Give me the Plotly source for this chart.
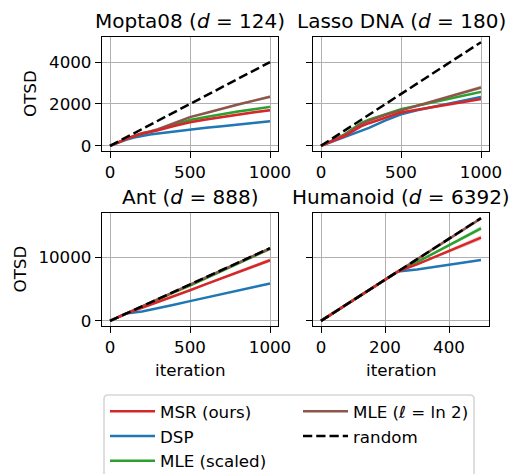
import plotly.graph_objects as go

# ---------------- data ----------------
MOPTA_X = [0, 50, 100, 150, 200, 250, 300, 400, 500, 600, 700, 800, 900, 1000]
MOPTA_RANDOM = [0, 200, 400, 600, 800, 1000, 1200, 1600, 2000, 2400, 2800, 3200, 3600, 4000]
MOPTA_MSR = [0, 170, 320, 460, 580, 660, 740, 950, 1130, 1260, 1380, 1490, 1600, 1700]
MOPTA_DSP = [0, 150, 290, 400, 480, 540, 590, 690, 780, 860, 940, 1020, 1100, 1170]
MOPTA_MLE_SCALED = [0, 170, 320, 460, 590, 670, 760, 1000, 1230, 1380, 1520, 1640, 1750, 1860]
MOPTA_MLE_LN2 = [0, 175, 330, 470, 600, 690, 790, 1080, 1370, 1570, 1780, 1970, 2160, 2340]
MOPTA_MSR_ERR = [0, 10, 15, 20, 25, 30, 30, 35, 40, 45, 50, 55, 60, 60]
MOPTA_DSP_ERR = [0, 8, 10, 12, 15, 18, 20, 22, 25, 28, 30, 32, 34, 35]
MOPTA_MLE_SCALED_ERR = [0, 10, 15, 20, 25, 30, 30, 35, 40, 45, 50, 55, 60, 60]
MOPTA_MLE_LN2_ERR = [0, 10, 15, 20, 25, 30, 35, 40, 45, 50, 55, 60, 65, 70]

LASSO_X = [0, 50, 100, 150, 200, 250, 300, 400, 500, 600, 700, 800, 900, 1000]
LASSO_RANDOM = [0, 248, 495, 743, 990, 1238, 1485, 1980, 2475, 2970, 3465, 3960, 4455, 4950]
LASSO_MSR = [0, 150, 300, 480, 700, 928, 1080, 1340, 1587, 1718, 1848, 1979, 2110, 2240]
LASSO_DSP = [0, 140, 288, 420, 560, 700, 860, 1200, 1500, 1698, 1858, 2018, 2178, 2337]
LASSO_MLE_SCALED = [0, 170, 340, 560, 820, 1087, 1250, 1500, 1745, 1911, 2077, 2244, 2410, 2577]
LASSO_MLE_LN2 = [0, 165, 330, 530, 780, 1024, 1200, 1470, 1695, 1914, 2130, 2350, 2570, 2788]
LASSO_MSR_ERR = [0, 10, 15, 20, 25, 30, 35, 40, 45, 50, 55, 60, 65, 70]
LASSO_DSP_ERR = [0, 10, 12, 15, 18, 20, 25, 30, 35, 40, 45, 50, 55, 60]
LASSO_MLE_SCALED_ERR = [0, 10, 15, 20, 25, 30, 35, 40, 45, 50, 55, 60, 65, 70]
LASSO_MLE_LN2_ERR = [0, 10, 15, 20, 25, 30, 35, 45, 55, 60, 65, 75, 85, 90]

ANT_X = [0, 100, 200, 300, 400, 500, 600, 700, 800, 900, 1000]
ANT_RANDOM = [0, 1140, 2280, 3420, 4560, 5700, 6840, 7980, 9120, 10260, 11400]
ANT_MSR = [0, 1140, 2050, 2940, 3870, 4800, 5750, 6700, 7600, 8550, 9500]
ANT_DSP = [0, 1150, 1480, 1970, 2520, 3090, 3650, 4200, 4750, 5300, 5870]
ANT_MLE_SCALED = [0, 1140, 2270, 3380, 4460, 5530, 6660, 7800, 8960, 10120, 11300]
ANT_MLE_LN2 = [0, 1140, 2270, 3400, 4530, 5660, 6790, 7920, 9060, 10200, 11350]
ANT_MSR_ERR = [0, 20, 60, 90, 120, 150, 180, 210, 240, 270, 300]
ANT_DSP_ERR = [0, 20, 30, 40, 50, 60, 70, 80, 90, 100, 110]
ANT_MLE_SCALED_ERR = [0, 20, 40, 60, 80, 100, 120, 140, 160, 180, 200]
ANT_MLE_LN2_ERR = [0, 20, 40, 60, 80, 100, 120, 140, 160, 180, 200]

HUM_X = [0, 50, 100, 150, 200, 240, 300, 350, 400, 450, 500]
HUM_RANDOM = [0, 1610, 3220, 4830, 6440, 7730, 9660, 11270, 12880, 14490, 16100]
HUM_MSR = [0, 1610, 3220, 4830, 6440, 7730, 8850, 9900, 10950, 11990, 13030]
HUM_DSP = [0, 1610, 3220, 4830, 6440, 7730, 8060, 8420, 8780, 9150, 9530]
HUM_MLE_SCALED = [0, 1610, 3220, 4830, 6440, 7730, 9200, 10500, 11800, 13150, 14500]
HUM_MLE_LN2 = [0, 1610, 3220, 4830, 6440, 7730, 9620, 11230, 12840, 14450, 16060]
HUM_MSR_ERR = [0, 20, 30, 40, 50, 60, 130, 200, 270, 340, 400]
HUM_DSP_ERR = [0, 20, 30, 40, 50, 60, 70, 80, 90, 100, 110]
HUM_MLE_SCALED_ERR = [0, 20, 30, 40, 50, 60, 110, 170, 230, 290, 350]
HUM_MLE_LN2_ERR = [0, 20, 30, 40, 50, 60, 80, 100, 120, 140, 160]

PANEL_TITLES = ["Mopta08 (<i>d</i> = 124)", "Lasso DNA (<i>d</i> = 180)",
                "Ant (<i>d</i> = 888)", "Humanoid (<i>d</i> = 6392)"]
SERIES_NAMES = ["MSR (ours)", "DSP", "MLE (scaled)", "MLE (ℓ = ln 2)", "random"]
X_TICKS_LONG = [0, 500, 1000]
X_TICKS_HUM = [0, 200, 400]
Y_TICKS_TOP = [0, 2000, 4000]
Y_TICKS_BOTTOM = [0, 10000]

# ---------------- styling ----------------
W, H = 511, 474
FONT = "DejaVu Sans"
TICK_FS = 16.7
TITLE_FS = 20
COLORS = {"MSR (ours)": "#d62728", "DSP": "#1f77b4", "MLE (scaled)": "#2ca02c",
          "MLE (ℓ = ln 2)": "#8c564b", "random": "black"}
FILLS = {"MSR (ours)": "rgba(214,39,40,0.25)", "DSP": "rgba(31,119,180,0.25)",
         "MLE (scaled)": "rgba(44,160,44,0.25)", "MLE (ℓ = ln 2)": "rgba(140,86,75,0.25)"}
LW = 2.5


def px_x(p):
    return p / W


def px_y(p):
    return 1 - p / H


panels = [
    dict(x=MOPTA_X, rnd=MOPTA_RANDOM,
         s={"MSR (ours)": (MOPTA_MSR, MOPTA_MSR_ERR), "DSP": (MOPTA_DSP, MOPTA_DSP_ERR),
            "MLE (scaled)": (MOPTA_MLE_SCALED, MOPTA_MLE_SCALED_ERR),
            "MLE (ℓ = ln 2)": (MOPTA_MLE_LN2, MOPTA_MLE_LN2_ERR)}),
    dict(x=LASSO_X, rnd=LASSO_RANDOM,
         s={"MSR (ours)": (LASSO_MSR, LASSO_MSR_ERR), "DSP": (LASSO_DSP, LASSO_DSP_ERR),
            "MLE (scaled)": (LASSO_MLE_SCALED, LASSO_MLE_SCALED_ERR),
            "MLE (ℓ = ln 2)": (LASSO_MLE_LN2, LASSO_MLE_LN2_ERR)}),
    dict(x=ANT_X, rnd=ANT_RANDOM,
         s={"MSR (ours)": (ANT_MSR, ANT_MSR_ERR), "DSP": (ANT_DSP, ANT_DSP_ERR),
            "MLE (scaled)": (ANT_MLE_SCALED, ANT_MLE_SCALED_ERR),
            "MLE (ℓ = ln 2)": (ANT_MLE_LN2, ANT_MLE_LN2_ERR)}),
    dict(x=HUM_X, rnd=HUM_RANDOM,
         s={"MSR (ours)": (HUM_MSR, HUM_MSR_ERR), "DSP": (HUM_DSP, HUM_DSP_ERR),
            "MLE (scaled)": (HUM_MLE_SCALED, HUM_MLE_SCALED_ERR),
            "MLE (ℓ = ln 2)": (HUM_MLE_LN2, HUM_MLE_LN2_ERR)}),
]

fig = go.Figure()
draw_order = ["DSP", "MLE (scaled)", "MLE (ℓ = ln 2)", "MSR (ours)"]
legend_of = {"MSR (ours)": ("legend", 1), "DSP": ("legend", 2), "MLE (scaled)": ("legend", 3),
             "MLE (ℓ = ln 2)": ("legend2", 1), "random": ("legend2", 2)}

for i, p in enumerate(panels):
    xa = "x" if i == 0 else f"x{i+1}"
    ya = "y" if i == 0 else f"y{i+1}"
    # bands
    for name in draw_order:
        vals, err = p["s"][name]
        up = [v + e for v, e in zip(vals, err)]
        lo = [v - e for v, e in zip(vals, err)]
        fig.add_trace(go.Scatter(x=p["x"], y=up, mode="lines", line=dict(width=0),
                                 xaxis=xa, yaxis=ya, showlegend=False, hoverinfo="skip"))
        fig.add_trace(go.Scatter(x=p["x"], y=lo, mode="lines", line=dict(width=0),
                                 fill="tonexty", fillcolor=FILLS[name],
                                 xaxis=xa, yaxis=ya, showlegend=False, hoverinfo="skip"))
    for name in draw_order:
        vals, _ = p["s"][name]
        lg, rank = legend_of[name]
        fig.add_trace(go.Scatter(x=p["x"], y=vals, mode="lines", name=name,
                                 line=dict(color=COLORS[name], width=LW),
                                 xaxis=xa, yaxis=ya, showlegend=(i == 0),
                                 legend=lg, legendrank=rank))
    lg, rank = legend_of["random"]
    fig.add_trace(go.Scatter(x=p["x"], y=p["rnd"], mode="lines", name="random",
                             line=dict(color="black", width=LW, dash="9.25px,4px"),
                             xaxis=xa, yaxis=ya, showlegend=(i == 0),
                             legend=lg, legendrank=rank))

# axes geometry (pixels)
XCOL = [(102, 278), (313, 489)]
YROW = [(37, 151), (213, 326)]

axis_common = dict(showline=True, mirror=True, linecolor="black", linewidth=1.33,
                   ticks="outside", ticklen=6, tickwidth=1.33, tickcolor="black",
                   showgrid=True, gridcolor="#b0b0b0", gridwidth=1.33, zeroline=False,
                   tickformat="d", automargin=False,
                   tickfont=dict(family=FONT, size=TICK_FS, color="black"))

layout = dict(width=W, height=H, margin=dict(l=0, r=0, t=0, b=0, autoexpand=False),
              plot_bgcolor="white", paper_bgcolor="white", showlegend=True)

for i in range(4):
    r, c = divmod(i, 2)
    xk = "xaxis" if i == 0 else f"xaxis{i+1}"
    yk = "yaxis" if i == 0 else f"yaxis{i+1}"
    ya = "y" if i == 0 else f"y{i+1}"
    xa = "x" if i == 0 else f"x{i+1}"
    if i == 3:
        xr, xt = [-25, 525], X_TICKS_HUM
    else:
        xr, xt = [-50, 1050], X_TICKS_LONG
    if r == 0:
        yr, yt = [-247.5, 5197.5], Y_TICKS_TOP
    else:
        yr, yt = [-805, 16905], Y_TICKS_BOTTOM
    layout[xk] = dict(axis_common, domain=[px_x(XCOL[c][0]), px_x(XCOL[c][1])],
                      range=xr, tickvals=xt, anchor=ya)
    layout[yk] = dict(axis_common, domain=[px_y(YROW[r][1]), px_y(YROW[r][0])],
                      range=yr, tickvals=yt, anchor=xa, showticklabels=(c == 0))

fig.update_layout(**layout)

annotations = []
title_pos = [(190, 21), (401, 21), (190, 197), (401, 197)]
for t, (x, y) in zip(PANEL_TITLES, title_pos):
    annotations.append(dict(text=t, x=px_x(x), y=px_y(y), xref="paper", yref="paper",
                            xanchor="center", yanchor="middle", showarrow=False,
                            font=dict(family=FONT, size=TITLE_FS, color="black")))
for x, y in [(30, 94), (19, 269.5)]:
    annotations.append(dict(text="OTSD", x=px_x(x), y=px_y(y), xref="paper", yref="paper",
                            xanchor="center", yanchor="middle", textangle=-90, showarrow=False,
                            font=dict(family=FONT, size=TICK_FS, color="black")))
for x in [190, 401]:
    annotations.append(dict(text="iteration", x=px_x(x), y=px_y(370), xref="paper", yref="paper",
                            xanchor="center", yanchor="middle", showarrow=False,
                            font=dict(family=FONT, size=TICK_FS, color="black")))
fig.update_layout(annotations=annotations)

# legend frame (rounded rectangle, extends below the figure like the reference)
x0, x1, y0, y1, rr = 104, 474, 395, 490, 4
path = (f"M {px_x(x0+rr)},{px_y(y0)} L {px_x(x1-rr)},{px_y(y0)} "
        f"Q {px_x(x1)},{px_y(y0)} {px_x(x1)},{px_y(y0+rr)} "
        f"L {px_x(x1)},{px_y(y1)} L {px_x(x0)},{px_y(y1)} "
        f"L {px_x(x0)},{px_y(y0+rr)} Q {px_x(x0)},{px_y(y0)} {px_x(x0+rr)},{px_y(y0)} Z")
fig.add_shape(type="path", path=path, xref="paper", yref="paper",
              line=dict(color="#d6d6d6", width=1.6), fillcolor="white", layer="below")

leg_common = dict(font=dict(family=FONT, size=TICK_FS, color="black"),
                  bgcolor="rgba(0,0,0,0)", borderwidth=0, orientation="v",
                  traceorder="normal",
                  xanchor="left", yanchor="top", tracegroupgap=0, itemwidth=45)
fig.update_layout(legend=dict(leg_common, x=px_x(105), y=px_y(394)),
                  legend2=dict(leg_common, x=px_x(298), y=px_y(394)))

fig.write_html("out.html")
